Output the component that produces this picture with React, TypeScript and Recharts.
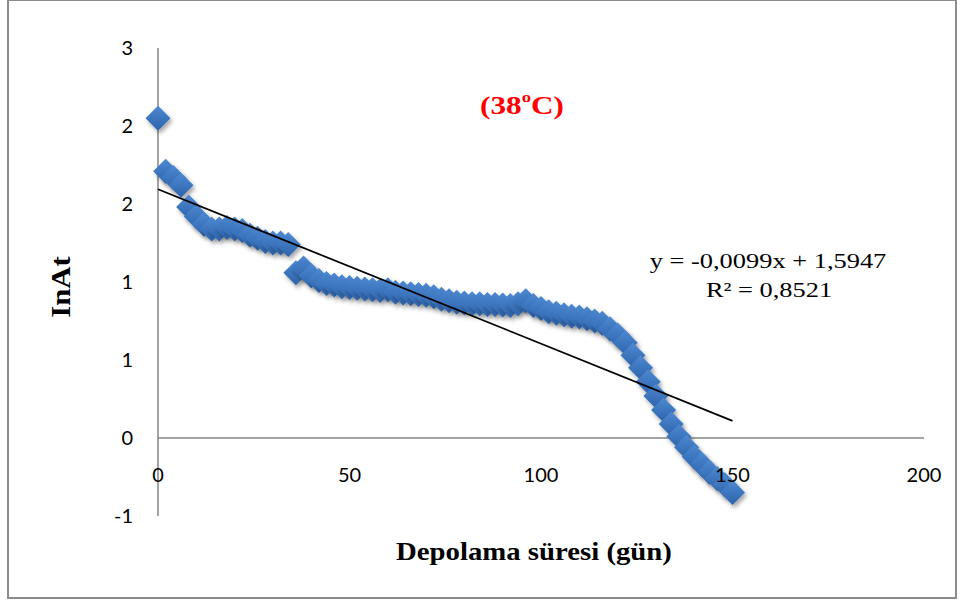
import React from 'react';
import { ScatterChart, Scatter, XAxis, YAxis, ReferenceLine } from 'recharts';

// storage day vs lnAt
const DAYS = [
    0, 2, 4, 6, 8, 10, 12, 14, 16, 18, 20, 22, 24, 26, 28, 30, 32, 34, 36, 38,
    40, 42, 44, 46, 48, 50, 52, 54, 56, 58, 60, 62, 64, 66, 68, 70, 72, 74, 76, 78,
    80, 82, 84, 86, 88, 90, 92, 94, 96, 98, 100, 102, 104, 106, 108, 110, 112, 114, 116, 118,
    120, 122, 124, 126, 128, 130, 132, 134, 136, 138, 140, 142, 144, 146, 148, 150,
];
const LN_AT = [
    2.05, 1.71, 1.67, 1.62, 1.48, 1.42, 1.37, 1.34, 1.34, 1.35, 1.34, 1.33, 1.3, 1.28, 1.26, 1.25, 1.25, 1.24, 1.06, 1.09,
    1.04, 1.01, 0.99, 0.98, 0.97, 0.965, 0.96, 0.955, 0.95, 0.945, 0.95, 0.935, 0.93, 0.925, 0.92, 0.915, 0.905, 0.89, 0.88, 0.87,
    0.865, 0.86, 0.86, 0.855, 0.855, 0.853, 0.85, 0.86, 0.88, 0.85, 0.83, 0.81, 0.8, 0.79, 0.78, 0.775, 0.765, 0.75, 0.735, 0.7,
    0.66, 0.61, 0.53, 0.45, 0.36, 0.27, 0.18, 0.09, 0.01, -0.06, -0.12, -0.17, -0.22, -0.26, -0.3, -0.35,
];

// linear trendline shown on the chart
const SLOPE = -0.0099;
const INTERCEPT = 1.5947;
const TREND_X = [0, 150];

const X_TICKS = [0, 50, 100, 150, 200];
const Y_TICKS = [-0.5, 0, 0.5, 1, 1.5, 2, 2.5];
const Y_LABELS = ['-1', '0', '1', '1', '2', '2', '3'];

const points = DAYS.map((d, i) => ({ x: d, y: LN_AT[i] }));
const trend = TREND_X.map((x) => ({ x, y: SLOPE * x + INTERCEPT }));

const tickFont = { fontFamily: 'Lato, sans-serif', fontSize: 20, fill: '#000' };

const Diamond = (props: any) => {
    const { cx, cy } = props;
    const r = 12.5;
    return (
        <polygon
            points={`${cx},${cy - r} ${cx + r},${cy} ${cx},${cy + r} ${cx - r},${cy}`}
            fill="url(#diamondFill)"
            filter="url(#diamondShadow)"
        />
    );
};

const XTick = (props: any) => {
    const { x, y, payload } = props;
    return (
        <text x={x} y={y - 42} textAnchor="middle" dominantBaseline="central" {...tickFont}>
            {payload.value}
        </text>
    );
};

const serif = '"Liberation Serif", "Times New Roman", serif';

const textBox = (left: number, top: number, extra: React.CSSProperties = {}): React.CSSProperties => ({
    position: 'absolute',
    left,
    top,
    lineHeight: 1,
    whiteSpace: 'nowrap',
    fontFamily: serif,
    transform: 'translate(-50%, -50%) scaleX(1.2)',
    ...extra,
});

export default function App() {
    return (
        <div style={{ position: 'absolute', left: 0, top: 0, width: 960, height: 601, background: '#fff' }}>
            <svg width={0} height={0} style={{ position: 'absolute' }}>
                <defs>
                    <linearGradient id="diamondFill" x1="0" y1="0" x2="0" y2="1">
                        <stop offset="0%" stopColor="#4d89d2" />
                        <stop offset="100%" stopColor="#2d63ab" />
                    </linearGradient>
                    <filter id="diamondShadow" x="-50%" y="-50%" width="200%" height="200%">
                        <feDropShadow dx="2" dy="3" stdDeviation="2" floodColor="#000" floodOpacity="0.35" />
                    </filter>
                </defs>
            </svg>

            <div
                style={{
                    position: 'absolute',
                    left: 7,
                    top: 0,
                    width: 946,
                    height: 596,
                    border: '2px solid #8c8c8c',
                    borderTopWidth: 1,
                }}
            />

            <div style={{ position: 'absolute', left: 8, top: 0 }}>
                <ScatterChart width={948} height={598} margin={{ top: 48, right: 32, bottom: 0, left: 0 }}>
                    <XAxis
                        type="number"
                        dataKey="x"
                        domain={[0, 200]}
                        ticks={X_TICKS}
                        axisLine={false}
                        tickLine={false}
                        tickSize={0}
                        tickMargin={0}
                        height={82}
                        tick={<XTick />}
                        interval={0}
                    />
                    <YAxis
                        type="number"
                        dataKey="y"
                        domain={[-0.5, 2.5]}
                        ticks={Y_TICKS}
                        width={150}
                        axisLine={{ stroke: '#868686', strokeWidth: 1.5 }}
                        tickLine={false}
                        tickSize={0}
                        tickMargin={25}
                        tick={tickFont}
                        interval={0}
                        tickFormatter={(_v: number, i: number) => Y_LABELS[i]}
                    />
                    <ReferenceLine y={0} stroke="#868686" strokeWidth={1.5} />
                    <Scatter data={points} shape={<Diamond />} isAnimationActive={false} />
                    <Scatter
                        data={trend}
                        line={{ stroke: '#000', strokeWidth: 1.75 }}
                        shape={() => <g />}
                        isAnimationActive={false}
                    />
                </ScatterChart>
            </div>

            <div style={textBox(61, 287, { fontSize: 28, fontWeight: 'bold', transform: 'translate(-50%, -50%) rotate(-90deg) scaleX(1.1)' })}>
                InAt
            </div>
            <div style={textBox(534, 551, { fontSize: 25, fontWeight: 'bold', transform: 'translate(-50%, -50%) scaleX(1.15)' })}>
                Depolama süresi (gün)
            </div>
            <div style={textBox(522, 106, { fontSize: 26, fontWeight: 'bold', color: '#ff0000' })}>
                (38<sup style={{ fontSize: '0.6em', verticalAlign: '0.75em', lineHeight: 0 }}>o</sup>C)
            </div>
            <div style={textBox(768, 261, { fontSize: 22 })}>y = -0,0099x + 1,5947</div>
            <div style={textBox(769, 290, { fontSize: 22 })}>R² = 0,8521</div>
        </div>
    );
}
